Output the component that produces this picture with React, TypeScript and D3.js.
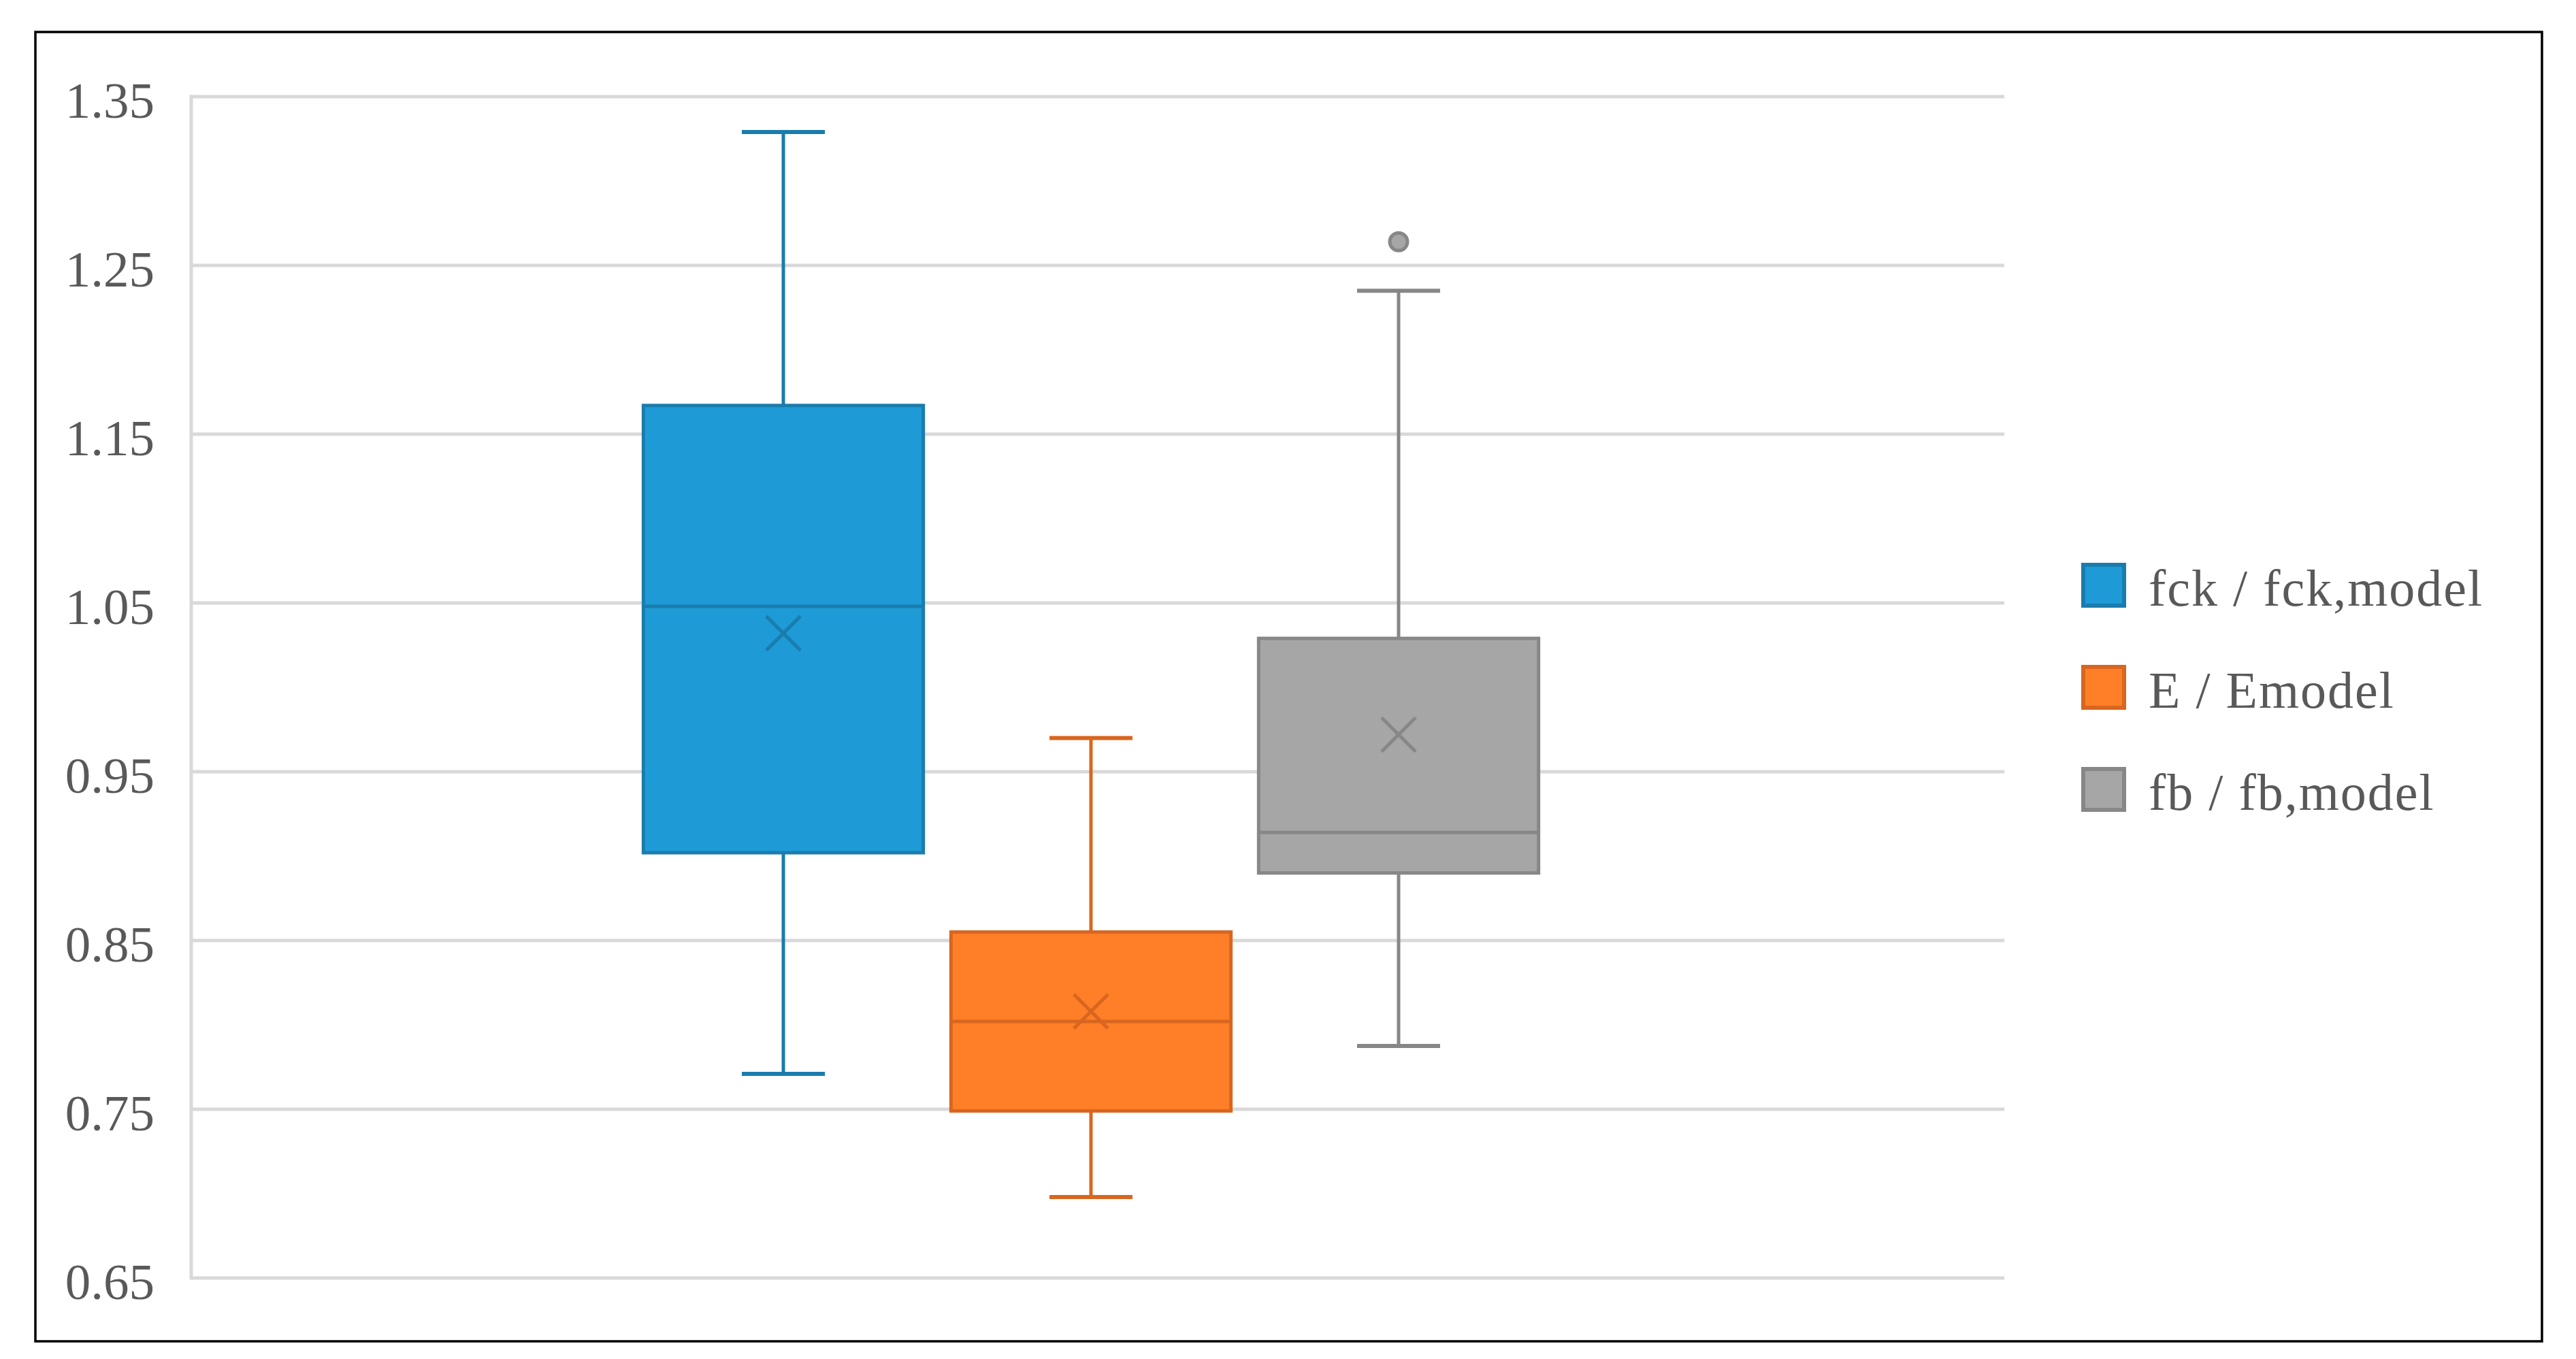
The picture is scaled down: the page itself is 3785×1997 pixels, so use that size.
import React from 'react';
import * as d3 from 'd3';

// Box plot statistics (ratio of tested / model value)
const seriesNames = ['fck / fck,model', 'E / Emodel', 'fb / fb,model'];
const whiskerLow = [0.771, 0.698, 0.7875];
const quartile1 = [0.902, 0.749, 0.89];
const medians = [1.048, 0.802, 0.914];
const quartile3 = [1.167, 0.855, 1.029];
const whiskerHigh = [1.329, 0.97, 1.235];
const means = [1.032, 0.808, 0.972];
const outliers = [[], [], [1.264]];
const yTicks = [0.65, 0.75, 0.85, 0.95, 1.05, 1.15, 1.25, 1.35];

const fills = ['#1e9bd7', '#fe7f27', '#a6a6a6'];
const strokes = ['#1a7cad', '#d8661f', '#878787'];

const W = 3785;
const H = 1997;
const FONT = '"Liberation Serif", "Times New Roman", serif';

const App = () => {
    // ── Scales ─────────────────────────────────────────────────────────
    const plot = { left: 281, right: 2945, top: 142, bottom: 1878 };

    const y = d3.scaleLinear().domain([0.65, 1.35]).range([plot.bottom, plot.top]);

    const x = d3
        .scaleBand<string>()
        .domain(seriesNames)
        .range([925, 925 + 3 * 452])
        .paddingInner(0.09)
        .paddingOuter(0.045);

    const bw = x.bandwidth();
    const capHalf = 61;
    const markHalf = 25;

    return (
        <svg
            width={W}
            height={H}
            style={{ position: 'absolute', left: 0, top: 0, background: '#fff' }}
        >
            <rect x={0} y={0} width={W} height={H} fill="#fff" />
            <rect
                x={52}
                y={47}
                width={3683}
                height={1924}
                fill="none"
                stroke="#000"
                strokeWidth={3.5}
            />

            {/* ── Gridlines & y labels ── */}
            <g>
                {yTicks.map((t) => (
                    <g key={t}>
                        <line
                            x1={plot.left}
                            x2={plot.right}
                            y1={y(t)}
                            y2={y(t)}
                            stroke="#d9d9d9"
                            strokeWidth={5}
                        />
                        <text
                            x={227}
                            y={y(t) + 31}
                            textAnchor="end"
                            fontFamily={FONT}
                            fontSize={75}
                            fill="#595959"
                        >
                            {d3.format('.2f')(t)}
                        </text>
                    </g>
                ))}
                <line
                    x1={plot.left}
                    x2={plot.left}
                    y1={plot.top - 2.5}
                    y2={plot.bottom + 2.5}
                    stroke="#d9d9d9"
                    strokeWidth={5}
                />
            </g>

            {/* ── Boxes ── */}
            {seriesNames.map((s, i) => {
                const x0 = x(s) as number;
                const cx = x0 + bw / 2;
                const st = strokes[i];
                return (
                    <g key={s}>
                        <line x1={cx} x2={cx} y1={y(whiskerHigh[i])} y2={y(quartile3[i])} stroke={st} strokeWidth={5} />
                        <line x1={cx} x2={cx} y1={y(quartile1[i])} y2={y(whiskerLow[i])} stroke={st} strokeWidth={5} />
                        <line x1={cx - capHalf} x2={cx + capHalf} y1={y(whiskerHigh[i])} y2={y(whiskerHigh[i])} stroke={st} strokeWidth={6} />
                        <line x1={cx - capHalf} x2={cx + capHalf} y1={y(whiskerLow[i])} y2={y(whiskerLow[i])} stroke={st} strokeWidth={6} />
                        <rect
                            x={x0}
                            y={y(quartile3[i])}
                            width={bw}
                            height={y(quartile1[i]) - y(quartile3[i])}
                            fill={fills[i]}
                            stroke={st}
                            strokeWidth={5}
                        />
                        <line x1={x0} x2={x0 + bw} y1={y(medians[i])} y2={y(medians[i])} stroke={st} strokeWidth={5} />
                        <path
                            d={`M${cx - markHalf},${y(means[i]) - markHalf}L${cx + markHalf},${y(means[i]) + markHalf}M${cx - markHalf},${y(means[i]) + markHalf}L${cx + markHalf},${y(means[i]) - markHalf}`}
                            stroke={st}
                            strokeWidth={5}
                            fill="none"
                        />
                        {outliers[i].map((o, j) => (
                            <circle key={j} cx={cx} cy={y(o)} r={13} fill={fills[i]} stroke={st} strokeWidth={5} />
                        ))}
                    </g>
                );
            })}

            {/* ── Legend ── */}
            {seriesNames.map((s, i) => (
                <g key={s} transform={`translate(3058,${827 + i * 150})`}>
                    <rect x={3} y={3} width={60} height={60} fill={fills[i]} stroke={strokes[i]} strokeWidth={6} />
                    <text x={99} y={63} fontFamily={FONT} fontSize={76} letterSpacing={2} fill="#595959">
                        {s}
                    </text>
                </g>
            ))}
        </svg>
    );
};

export default App;
